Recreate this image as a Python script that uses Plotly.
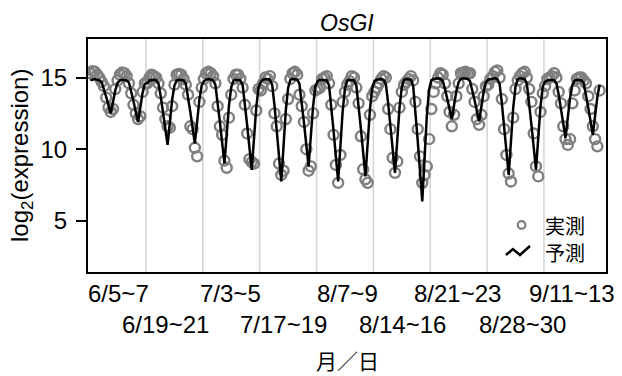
import plotly.graph_objects as go

# ---- data (log2 expression), one list per sampling period, 2-h steps over 48 h ----
period_labels = ["6/5~7", "6/19~21", "7/3~5", "7/17~19", "8/7~9",
                 "8/14~16", "8/21~23", "8/28~30", "9/11~13"]
label_pos = [25, 66, 123, 170, 226, 275, 323, 380, 424]   # tick positions (hours axis)
label_row = [0, 1, 0, 1, 0, 1, 0, 1, 0]
hours = list(range(0, 49, 2))
period_len = 50

pred_p1 = [14.80,14.85,14.90,14.85,14.80,14.68,14.22,13.65,13.07,12.50,13.30,14.11,14.62,14.80,14.85,14.85,14.80,14.65,14.07,13.35,12.62,11.90,12.91,13.93,14.57]
obs_p1  = [15.30,15.45,15.40,15.20,15.00,14.70,14.40,13.60,12.90,12.60,12.80,14.20,14.80,15.20,15.35,15.30,15.10,14.60,13.90,13.10,12.50,12.10,12.30,14.00,14.60]
pred_p2 = [14.60,14.80,14.85,14.85,14.80,14.57,13.67,12.55,11.42,10.30,11.87,13.45,14.44,14.80,14.85,14.85,14.80,14.58,13.70,12.60,11.50,10.40,11.94,13.48,14.45]
obs_p2  = [14.60,15.00,15.20,15.10,15.00,14.60,13.90,12.90,12.10,11.60,11.50,13.00,14.50,15.20,15.25,15.20,14.90,14.50,13.80,11.60,11.40,10.10,9.50,13.30,14.30]
pred_p3 = [14.75,14.85,14.90,14.85,14.80,14.51,13.35,11.90,10.45,9.00,11.03,13.06,14.34,14.80,14.85,14.85,14.80,14.49,13.24,11.67,10.11,8.55,10.74,12.92,14.30]
obs_p3  = [14.90,15.30,15.40,15.30,15.10,14.60,13.00,11.60,11.00,9.20,8.70,12.20,13.80,14.90,15.20,15.20,14.90,14.30,13.10,11.10,9.30,9.10,9.00,12.70,14.20]
pred_p4 = [14.70,14.85,14.90,14.90,14.85,14.49,13.07,11.30,9.52,7.75,10.23,12.72,14.28,14.85,14.90,14.90,14.85,14.55,13.34,11.82,10.31,8.80,10.92,13.03,14.37]
obs_p4  = [14.10,14.60,15.00,14.90,15.10,14.40,12.50,11.60,9.00,8.20,8.50,12.10,13.50,14.90,15.30,15.40,15.20,13.80,13.00,11.90,10.00,8.50,8.80,12.50,14.10]
pred_p5 = [14.75,14.85,14.85,14.80,14.80,14.45,13.04,11.27,9.51,7.75,10.22,12.68,14.24,14.80,14.85,14.85,14.80,14.46,13.12,11.45,9.77,8.10,10.44,12.79,14.26]
obs_p5  = [14.20,14.30,14.90,15.00,15.10,14.60,13.10,11.00,8.90,7.65,9.60,13.30,14.00,14.50,14.75,15.10,15.00,14.30,13.20,10.90,8.60,7.90,7.65,12.40,13.70]
pred_p6 = [14.75,14.85,14.90,14.90,14.85,14.52,13.22,11.60,9.97,8.35,10.62,12.90,14.33,14.85,14.90,14.90,14.85,14.42,12.72,10.60,8.47,6.35,9.32,12.30,14.17]
obs_p6  = [14.00,14.30,14.60,14.90,15.10,15.00,12.80,11.40,9.40,8.35,9.15,12.90,14.00,14.50,14.70,14.90,15.10,14.80,13.30,11.40,9.50,7.65,8.20,8.80,10.70]
pred_p7 = [14.80,14.90,14.95,14.95,14.90,14.76,14.20,13.50,12.80,12.10,13.08,14.06,14.68,14.90,14.95,14.95,14.90,14.75,14.16,13.42,12.69,11.95,12.98,14.01,14.66]
obs_p7  = [12.80,14.00,14.60,15.00,15.30,15.20,14.60,13.70,12.60,11.60,12.40,13.70,14.60,15.30,15.35,15.40,15.30,15.30,14.20,13.30,12.10,11.70,12.40,13.70,14.40]
pred_p8 = [14.85,14.90,14.95,14.95,14.90,14.56,13.22,11.55,9.87,8.20,10.54,12.89,14.36,14.90,14.95,14.95,14.90,14.58,13.31,11.72,10.14,8.55,10.77,12.99,14.39]
obs_p8  = [14.50,14.90,15.10,15.40,15.50,15.00,13.50,11.40,9.60,8.30,7.75,12.20,14.20,14.80,15.10,15.30,15.40,15.00,14.20,13.30,11.10,8.80,8.10,12.60,13.90]
pred_p9 = [14.70,14.80,14.85,14.85,14.80,14.60,13.80,12.80,11.80,10.80,12.20,13.60,14.48,14.80,14.85,14.85,14.80,14.61,13.85,12.90,11.95,11.00,12.33,13.66,14.50]
obs_p9  = [14.40,14.90,15.00,15.10,15.30,15.00,14.00,13.20,11.60,10.70,10.30,10.70,13.20,14.10,14.90,15.00,15.00,14.80,14.60,13.70,12.80,11.60,10.70,10.20,14.10]

pred_all = [pred_p1, pred_p2, pred_p3, pred_p4, pred_p5, pred_p6, pred_p7, pred_p8, pred_p9]
obs_all = [obs_p1, obs_p2, obs_p3, obs_p4, obs_p5, obs_p6, obs_p7, obs_p8, obs_p9]

x_all, y_obs, y_pred = [], [], []
for k in range(len(pred_all)):
    for i, h in enumerate(hours):
        x_all.append(period_len * k + h)
        y_obs.append(obs_all[k][i])
        y_pred.append(pred_all[k][i])

FONT = "Liberation Sans, Arial, Noto Sans CJK JP, sans-serif"
CJK = "Noto Sans CJK JP, Liberation Sans, sans-serif"

fig = go.Figure()
fig.add_trace(go.Scatter(x=x_all, y=y_obs, mode="markers", showlegend=False,
                         marker=dict(symbol="circle-open", size=10, color="#7f7f7f",
                                     line=dict(width=2.4, color="#7f7f7f"))))
fig.add_trace(go.Scatter(x=x_all, y=y_pred, mode="lines", showlegend=False,
                         line=dict(color="black", width=2.5)))

shapes = []
for k in range(1, len(pred_all)):
    gx = period_len * k - 1
    shapes.append(dict(type="line", xref="x", yref="paper", x0=gx, x1=gx, y0=0, y1=1,
                       line=dict(color="#d4d4d4", width=1.5), layer="below"))

# custom legend symbols
shapes.append(dict(type="circle", xref="paper", yref="paper", xsizemode="pixel", ysizemode="pixel",
                   xanchor=0.837, yanchor=0.2017, x0=-3.8, x1=3.8, y0=-3.8, y1=3.8,
                   line=dict(color="#7f7f7f", width=2.2)))
shapes.append(dict(type="path", xref="paper", yref="paper", xsizemode="pixel", ysizemode="pixel",
                   xanchor=0.83, yanchor=0.090, path="M-12,-4 L-5,2 L2,-4 L12,5",
                   line=dict(color="black", width=2.5)))

annotations = []
for lab, px, row in zip(period_labels, label_pos, label_row):
    annotations.append(dict(text=lab, x=px, xref="x", y=0, yref="paper", yanchor="middle",
                            xanchor="center", yshift=-21 - 31 * row, showarrow=False,
                            font=dict(family=FONT, size=24, color="black")))
annotations += [
    dict(text="<i>OsGI</i>", x=0.5, y=1.0708, xref="paper", yref="paper", showarrow=False,
         xanchor="center", yanchor="middle", font=dict(family=FONT, size=23, color="black")),
    dict(text="log<sub>2</sub>(expression)", x=-0.1274, y=0.498, xref="paper", yref="paper",
         textangle=-90, showarrow=False, xanchor="center", yanchor="middle",
         font=dict(family=FONT, size=24, color="black")),
    dict(text="月／日", x=0.5, y=-0.378, xref="paper", yref="paper", showarrow=False,
         xanchor="center", yanchor="middle", font=dict(family=CJK, size=21, color="black")),
    dict(text="実測", x=0.88, y=0.2017, xref="paper", yref="paper", showarrow=False, borderpad=0,
         xanchor="left", yanchor="middle", font=dict(family=CJK, size=20, color="black")),
    dict(text="予測", x=0.88, y=0.0858, xref="paper", yref="paper", showarrow=False, borderpad=0,
         xanchor="left", yanchor="middle", font=dict(family=CJK, size=20, color="black")),
]

fig.update_layout(
    width=622, height=376, margin=dict(l=88, r=16, t=39, b=104),
    paper_bgcolor="white", plot_bgcolor="white",
    shapes=shapes, annotations=annotations,
    xaxis=dict(range=[-2, 453.6], showgrid=False, zeroline=False, showticklabels=False,
               ticks="", showline=True, mirror=True, linecolor="black", linewidth=2),
    yaxis=dict(range=[1.43, 17.69], tickvals=[5, 10, 15], showgrid=False, zeroline=False,
               ticks="outside", ticklen=10, tickwidth=2, tickcolor="black",
               showline=True, mirror=True, linecolor="black", linewidth=2,
               ticklabelstandoff=4, tickfont=dict(family=FONT, size=24, color="black")),
)
fig.write_html("out.html")
